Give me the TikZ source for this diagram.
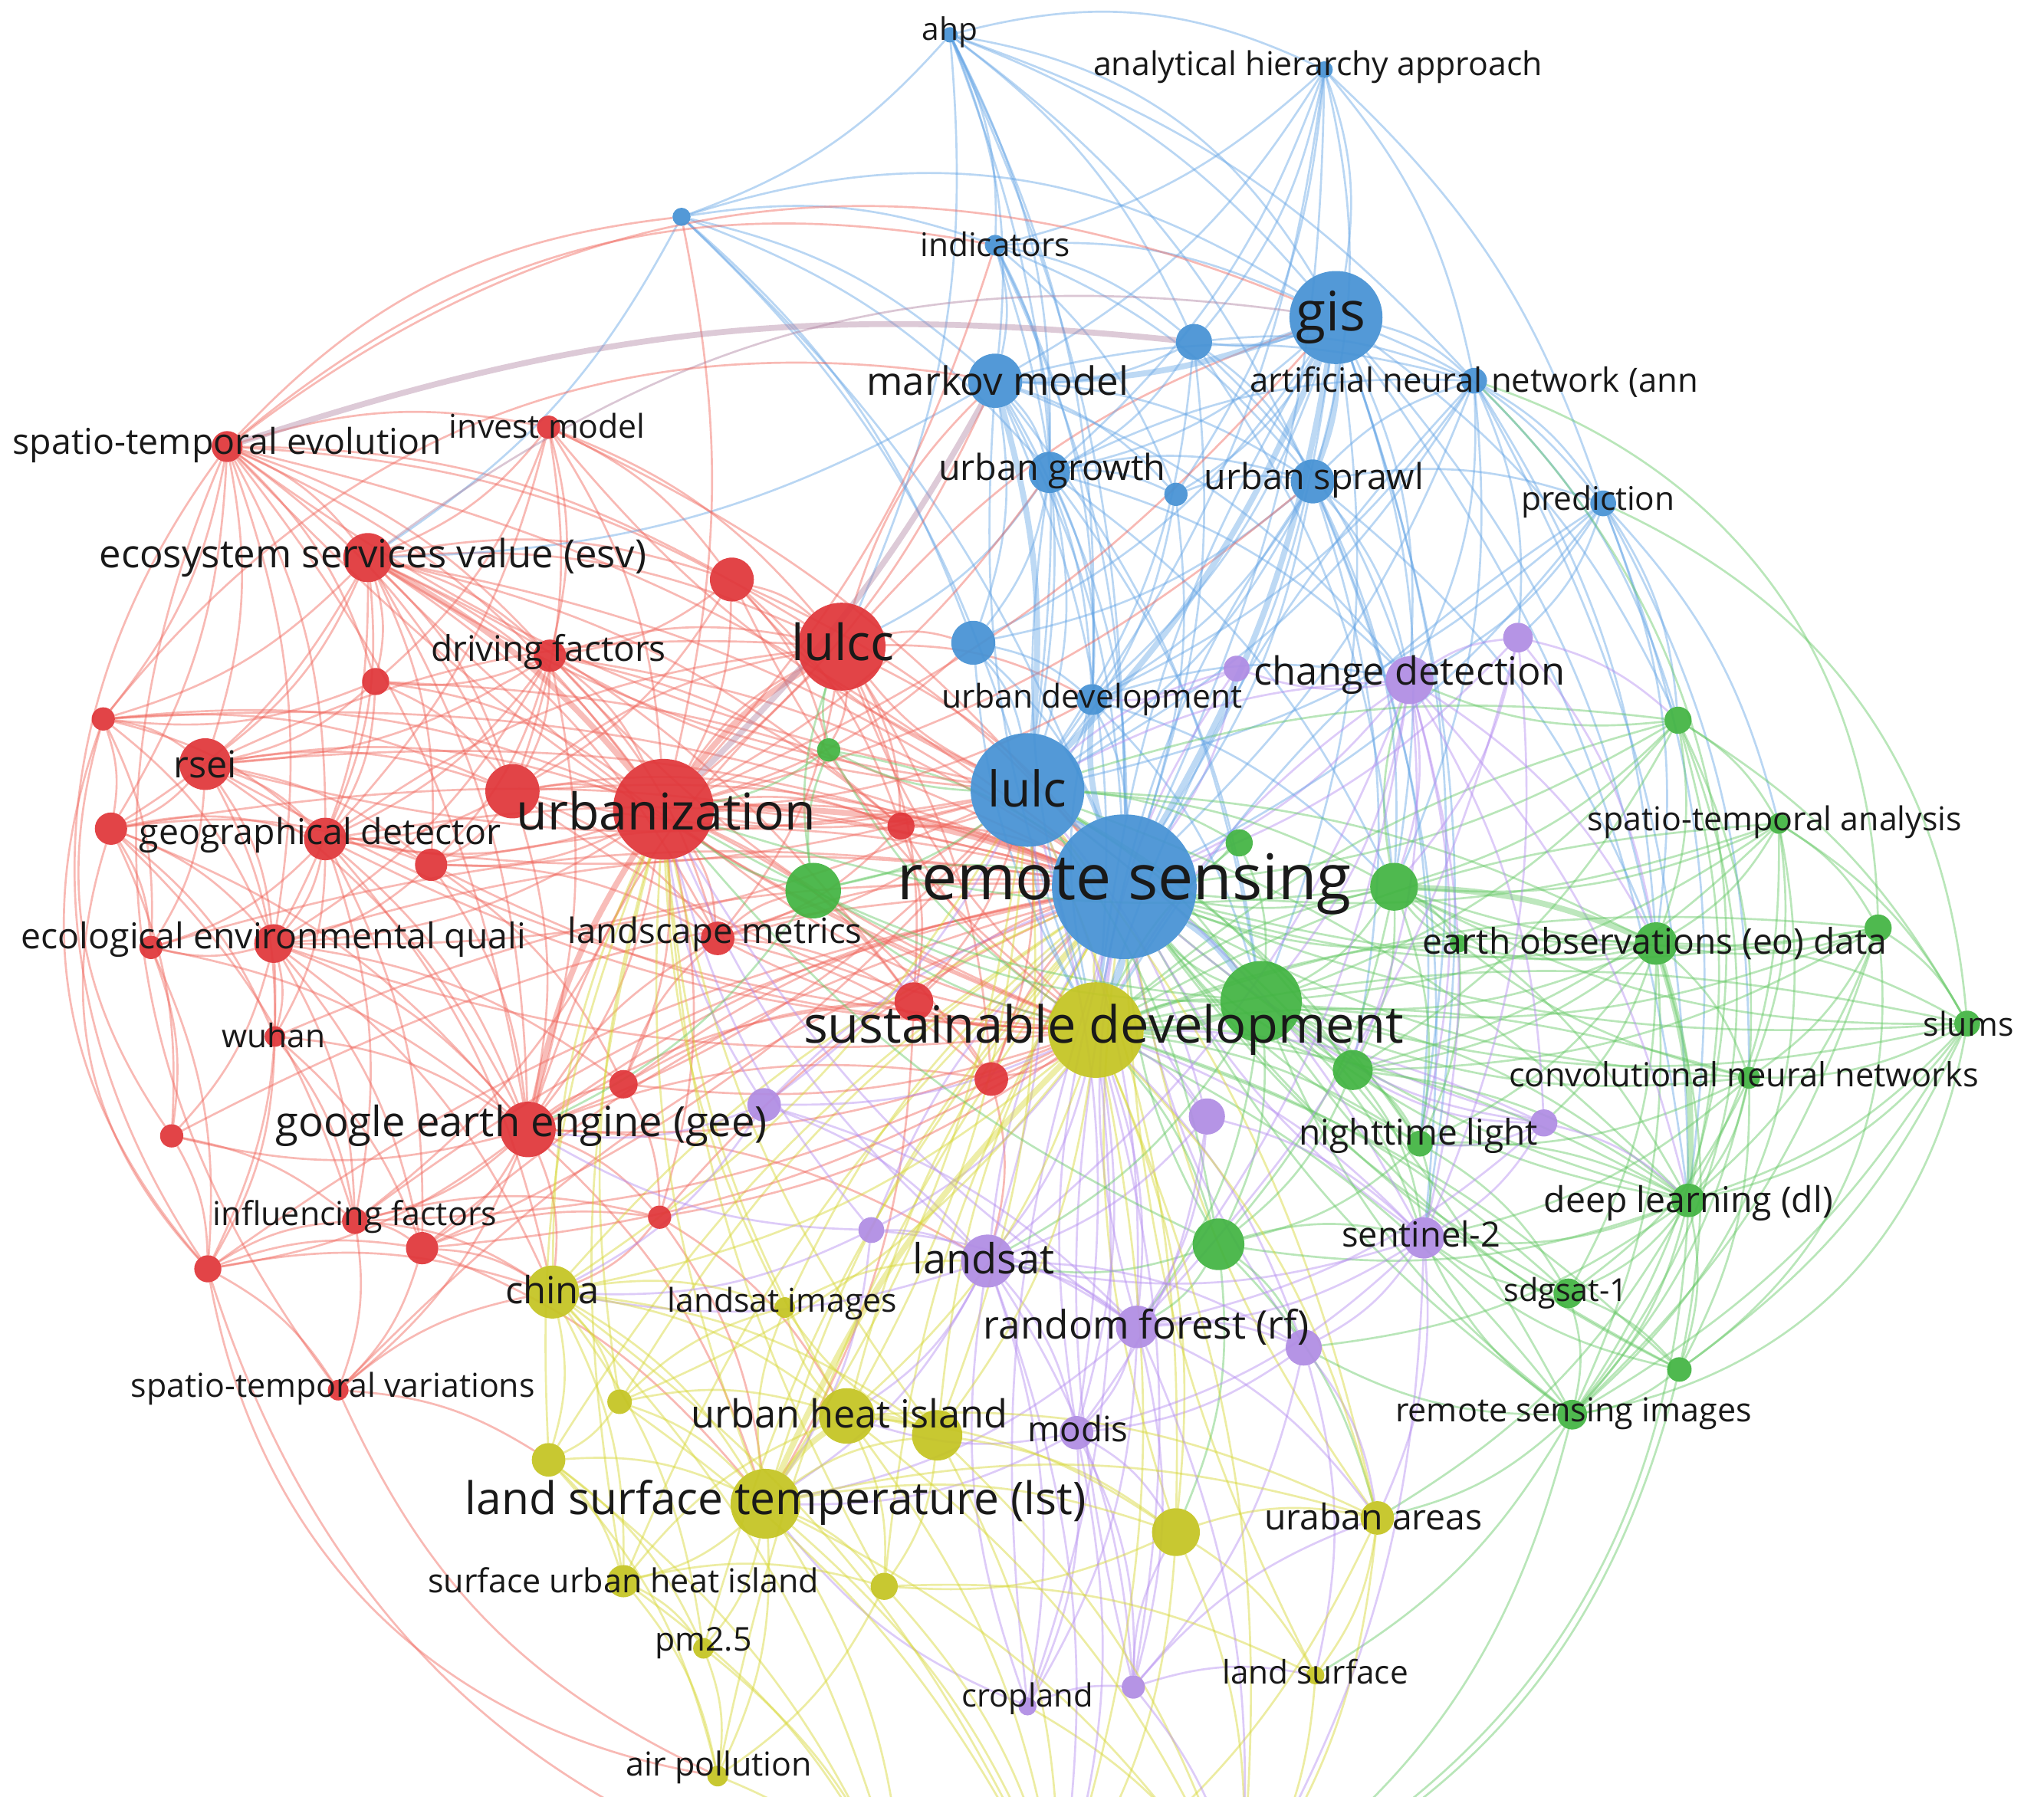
\documentclass[tikz,border=0pt]{standalone}
\usepackage{fontspec}
\setmainfont{Open Sans}
\usepackage{graphicx}
\definecolor{cNR}{RGB}{224,54,58}
\definecolor{cNB}{RGB}{70,146,212}
\definecolor{cNG}{RGB}{66,180,66}
\definecolor{cNY}{RGB}{196,196,34}
\definecolor{cNP}{RGB}{176,140,228}
\definecolor{cER}{RGB}{240,100,90}
\definecolor{cEB}{RGB}{100,165,230}
\definecolor{cEG}{RGB}{100,200,100}
\definecolor{cEY}{RGB}{215,215,50}
\definecolor{cEP}{RGB}{180,140,240}
\definecolor{cEM}{RGB}{175,130,160}
\definecolor{cTX}{RGB}{25,25,25}
\pgfdeclarelayer{bgl}
\pgfdeclarelayer{edges}
\pgfsetlayers{bgl,edges,main}
\newlength\pxu
\setlength\pxu{0.01cm}
\newcommand\lbl[2]{\resizebox{#1\pxu}{!}{#2}}
\newcommand\kwn[5]{\node[#1,minimum size={#5*0.02cm}] (#2) at (#3,#4) {};}
\newcommand\kwl[5]{\node[kwlab] (#1-l) at (#2,#3) {\lbl{#4}{#5}};}
\tikzset{
 kwc/.style={circle,inner sep=0pt,outer sep=0pt,draw=none,fill opacity=0.93},
 kR/.style={kwc,fill=cNR},
 kB/.style={kwc,fill=cNB},
 kG/.style={kwc,fill=cNG},
 kY/.style={kwc,fill=cNY},
 kP/.style={kwc,fill=cNP},
 kwlab/.style={inner sep=0pt,outer sep=0pt,text=cTX},
 ed/.style={line width=0.45pt,draw opacity=0.45},
 eR/.style={ed,draw=cER},
 eB/.style={ed,draw=cEB},
 eG/.style={ed,draw=cEG},
 eY/.style={ed,draw=cEY},
 eP/.style={ed,draw=cEP},
 eM/.style={ed,draw=cEM},
 hv/.style={line width=1.3pt,draw opacity=0.42},
}
\begin{document}
\begin{tikzpicture}[x=0.01cm,y=-0.01cm]
\useasboundingbox (0,0) rectangle (1568,1410);
\begin{pgfonlayer}{bgl}
\fill[white] (0,0) rectangle (1568,1410);
\end{pgfonlayer}
% ---------- blue cluster
\kwn{kB}{ahp}{736}{27}{6}
\kwn{kB}{ahap}{1026}{54}{6.5}
\kwn{kB}{bsm1}{528}{168}{7}
\kwn{kB}{ind}{771}{190}{8}
\kwn{kB}{gis}{1035}{246}{36}
\kwn{kB}{bsm2}{925}{265}{14}
\kwn{kB}{mark}{771}{295}{21}
\kwn{kB}{ugr}{813}{366}{16}
\kwn{kB}{bsm3}{911}{383}{9}
\kwn{kB}{usp}{1017}{373}{17}
\kwn{kB}{ann}{1142}{295}{10}
\kwn{kB}{pred}{1242}{390}{10}
\kwn{kB}{bud}{754}{498}{17}
\kwn{kB}{udev}{846}{542}{12}
\kwn{kB}{lulc}{796}{612}{44}
\kwn{kB}{rs}{871}{687}{56}
% ---------- red cluster
\kwn{kR}{ste}{176}{346}{12}
\kwn{kR}{inv}{425}{331}{9}
\kwn{kR}{esv}{285}{432}{19}
\kwn{kR}{r1}{567}{449}{17}
\kwn{kR}{drv}{426}{508}{12.5}
\kwn{kR}{r2}{291}{528}{10.5}
\kwn{kR}{r3}{80}{557}{9}
\kwn{kR}{rsei}{159}{592}{20}
\kwn{kR}{r4}{397}{613}{21}
\kwn{kR}{urb}{514}{627}{39}
\kwn{kR}{r5}{86}{642}{12.5}
\kwn{kR}{geo}{252}{650}{16.5}
\kwn{kR}{r6}{334}{670}{12.5}
\kwn{kR}{eeq}{212}{731}{15}
\kwn{kR}{r7}{117}{734}{9}
\kwn{kR}{wuh}{213}{803}{8}
\kwn{kR}{r8}{483}{840}{11}
\kwn{kR}{gee}{409}{875}{21.5}
\kwn{kR}{r9}{133}{880}{9}
\kwn{kR}{lulcc}{652}{501}{34}
\kwn{kR}{r10}{698}{640}{10.5}
\kwn{kR}{lsm}{556}{727}{13}
\kwn{kR}{r11}{708}{776}{15}
\kwn{kR}{r12}{768}{836}{13}
\kwn{kR}{inf}{275}{946}{10}
\kwn{kR}{r13}{327}{967}{12.5}
\kwn{kR}{r14}{161}{983}{10.5}
\kwn{kR}{r15}{511}{943}{9}
\kwn{kR}{stv}{262}{1077}{8}
% ---------- green cluster
\kwn{kG}{g1}{642}{581}{9}
\kwn{kG}{g2}{960}{653}{10.5}
\kwn{kG}{g3}{630}{690}{21.5}
\kwn{kG}{g4}{977}{776}{31.5}
\kwn{kG}{g5}{1080}{687}{18.5}
\kwn{kG}{g6}{1300}{558}{10.5}
\kwn{kG}{sta}{1378}{638}{8}
\kwn{kG}{g7}{1455}{719}{10.5}
\kwn{kG}{eo}{1283}{731}{16.5}
\kwn{kG}{g8}{1130}{731}{7}
\kwn{kG}{slums}{1524}{793}{10}
\kwn{kG}{cnn}{1355}{835}{8.5}
\kwn{kG}{g9}{1048}{829}{15.5}
\kwn{kG}{nl}{1100}{886}{10}
\kwn{kG}{dl}{1308}{930}{13}
\kwn{kG}{g10}{944}{964}{20}
\kwn{kG}{sdg}{1215}{1002}{11.5}
\kwn{kG}{g11}{1301}{1061}{9.5}
\kwn{kG}{rsi}{1218}{1096}{11.5}
% ---------- purple cluster
\kwn{kP}{p1}{958}{518}{10}
\kwn{kP}{cd}{1092}{527}{18.5}
\kwn{kP}{p2}{1176}{494}{11.5}
\kwn{kP}{p3}{592}{856}{13}
\kwn{kP}{p4}{935}{865}{14}
\kwn{kP}{p5}{1196}{870}{10.5}
\kwn{kP}{s2}{1103}{959}{16}
\kwn{kP}{p6}{675}{953}{10}
\kwn{kP}{lsat}{765}{977}{20.5}
\kwn{kP}{rf}{881}{1028}{16.5}
\kwn{kP}{p7}{1010}{1044}{14}
\kwn{kP}{modis}{834}{1110}{13}
\kwn{kP}{crop}{796}{1322}{7}
\kwn{kP}{p8}{878}{1307}{9}
% ---------- yellow cluster
\kwn{kY}{sd}{849}{798}{37}
\kwn{kY}{china}{428}{1001}{20.5}
\kwn{kY}{y1}{480}{1086}{9.5}
\kwn{kY}{y2}{425}{1131}{13}
\kwn{kY}{lst}{593}{1165}{27}
\kwn{kY}{suhi}{483}{1225}{12.5}
\kwn{kY}{pm}{545}{1277}{8}
\kwn{kY}{air}{556}{1376}{8}
\kwn{kY}{lsi}{608}{1013}{8}
\kwn{kY}{uhi}{656}{1097}{21.5}
\kwn{kY}{y3}{726}{1112}{19.5}
\kwn{kY}{y4}{911}{1187}{18.5}
\kwn{kY}{ua}{1067}{1176}{13}
\kwn{kY}{y5}{685}{1229}{10.5}
\kwn{kY}{ls}{1019}{1298}{7}
% off-canvas ends
\coordinate (ob1) at (820,1480);
\coordinate (ob2) at (960,1480);
\coordinate (ob3) at (700,1480);
% ---------- labels
\kwl{ahp}{736}{25}{43}{ahp}
\kwl{ahap}{1021}{52}{348}{analytical hierarchy approach}
\kwl{ind}{771}{189}{116}{indicators}
\kwl{gis}{1031}{246}{54}{gis}
\kwl{mark}{773}{295}{203}{markov model}
\kwl{ann}{1142}{296}{347}{artificial neural network (ann}
\kwl{ugr}{815}{365}{176}{urban growth}
\kwl{usp}{1018}{372}{170}{urban sprawl}
\kwl{pred}{1238}{389}{119}{prediction}
\kwl{ste}{176}{345}{332}{spatio-temporal evolution}
\kwl{inv}{424}{330}{152}{invest model}
\kwl{esv}{289}{432}{424}{ecosystem services value (esv)}
\kwl{drv}{425}{505}{182}{driving factors}
\kwl{lulcc}{653}{497}{80}{lulcc}
\kwl{udev}{846}{542}{233}{urban development}
\kwl{cd}{1092}{523}{241}{change detection}
\kwl{rsei}{159}{592}{49}{rsei}
\kwl{urb}{516}{628}{232}{urbanization}
\kwl{lulc}{796}{611}{61}{lulc}
\kwl{geo}{248}{647}{280}{geographical detector}
\kwl{sta}{1375}{637}{290}{spatio-temporal analysis}
\kwl{rs}{871}{685}{352}{remote sensing}
\kwl{lsm}{554}{724}{228}{landscape metrics}
\kwl{eeq}{212}{728}{391}{ecological environmental quali}
\kwl{eo}{1282}{731}{360}{earth observations (eo) data}
\kwl{sd}{855}{798}{465}{sustainable development}
\kwl{slums}{1525}{793}{70}{slums}
\kwl{wuh}{212}{802}{80}{wuhan}
\kwl{cnn}{1351}{832}{364}{convolutional neural networks}
\kwl{gee}{404}{872}{381}{google earth engine (gee)}
\kwl{nl}{1099}{880}{185}{nighttime light}
\kwl{dl}{1308}{932}{224}{deep learning (dl)}
\kwl{inf}{275}{943}{220}{influencing factors}
\kwl{lsat}{762}{975}{110}{landsat}
\kwl{s2}{1101}{956}{123}{sentinel-2}
\kwl{china}{428}{999}{73}{china}
\kwl{lsi}{606}{1010}{178}{landsat images}
\kwl{sdg}{1213}{1002}{96}{sdgsat-1}
\kwl{rf}{888}{1028}{252}{random forest (rf)}
\kwl{stv}{258}{1076}{313}{spatio-temporal variations}
\kwl{uhi}{658}{1095}{245}{urban heat island}
\kwl{modis}{835}{1107}{78}{modis}
\kwl{rsi}{1219}{1095}{276}{remote sensing images}
\kwl{lst}{601}{1164}{481}{land surface temperature (lst)}
\kwl{ua}{1064}{1175}{169}{uraban areas}
\kwl{suhi}{483}{1224}{303}{surface urban heat island}
\kwl{pm}{545}{1273}{75}{pm2.5}
\kwl{crop}{796}{1316}{102}{cropland}
\kwl{ls}{1019}{1295}{144}{land surface}
\kwl{air}{557}{1369}{144}{air pollution}
% ---------- edges
\begin{pgfonlayer}{edges}
\clip (0,0) rectangle (1568,1392);
% red
\foreach \a/\b in {ste/inv,ste/esv,ste/drv,ste/r2,ste/r3,ste/rsei,ste/r5,ste/geo,ste/urb,ste/lulcc,ste/eeq,ste/r4,ste/r1,ste/gee,
 inv/esv,inv/drv,inv/urb,inv/lulcc,inv/r1,inv/r4,inv/geo,inv/r2,
 esv/drv,esv/r2,esv/r3,esv/rsei,esv/r4,esv/urb,esv/lulcc,esv/r1,esv/geo,esv/r6,esv/eeq,esv/gee,esv/r5,esv/lsm,esv/r10,esv/r11,
 r1/lulcc,r1/urb,r1/drv,r1/r4,r1/r10,r1/g1,
 drv/r2,drv/rsei,drv/urb,drv/lulcc,drv/geo,drv/r4,drv/r6,drv/eeq,drv/gee,drv/r10,drv/lsm,
 r2/rsei,r2/geo,r2/r3,r2/urb,r2/r4,
 r3/rsei,r3/r5,r3/geo,r3/eeq,r3/r7,r3/urb,r3/r4,
 rsei/r5,rsei/geo,rsei/eeq,rsei/r4,rsei/urb,rsei/r6,rsei/r7,rsei/gee,rsei/lulcc,rsei/wuh,
 r4/urb,r4/lulcc,r4/geo,r4/gee,r4/r6,r4/lsm,r4/r10,
 urb/lulcc,urb/geo,urb/r6,urb/eeq,urb/gee,urb/lsm,urb/r11,urb/r10,urb/r8,urb/r12,urb/inf,urb/r15,
 r5/geo,r5/eeq,r5/r7,r5/wuh,r5/r9,r5/gee,r5/inf,r5/r6,
 geo/r6,geo/eeq,geo/wuh,geo/gee,geo/inf,geo/r13,geo/r7,geo/lulcc,
 r6/eeq,r6/gee,r6/lsm,r6/r8,
 eeq/wuh,eeq/gee,eeq/r7,eeq/r9,eeq/inf,eeq/r13,eeq/r14,eeq/r8,
 wuh/gee,wuh/inf,wuh/r14,wuh/r13,r7/r9,r7/r14,r7/gee,
 gee/r8,gee/r9,gee/inf,gee/r13,gee/r14,gee/r15,gee/lulcc,gee/r11,gee/stv,gee/r12,gee/lsm,
 r8/lsm,r8/r15,r8/r11,lulcc/r10,lulcc/r11,lulcc/lsm,lulcc/r12,lulcc/g1,
 r10/lsm,r10/r11,lsm/r11,lsm/r12,r11/r12,r9/r14,r9/inf,
 r14/inf,r14/r13,r14/stv,inf/r13,inf/stv,inf/r15,r13/stv,r13/r15,
 lulcc/mark,lulcc/gis,lulcc/udev,lulcc/bud,
 gee/china,gee/lst,gee/lsat,
 r14/china,inf/china,r13/china,stv/china,stv/y2,r13/lst,r15/lst,r15/china,r15/uhi,eeq/china,geo/china,
 r11/lst,r12/lsat,lsm/g3}
 \draw[eR] (\a) to[bend left=14] (\b);
% blue
\foreach \a/\b in {ahp/ind,ahp/gis,ahp/mark,ahp/ugr,ahp/usp,ahp/bsm1,ahp/lulc,ahp/udev,ahp/bsm2,ahp/ann,
 ahap/gis,ahap/ann,ahap/bsm2,ahap/usp,ahap/mark,ahap/pred,ahap/lulc,ahap/ind,ahap/ugr,ahap/bsm3,
 bsm1/ind,bsm1/mark,bsm1/lulc,bsm1/ugr,bsm1/bud,
 ind/mark,ind/gis,ind/ugr,ind/lulc,ind/udev,ind/usp,ind/bsm2,ind/bsm3,
 gis/bsm2,gis/ann,gis/ugr,gis/pred,gis/bsm3,gis/udev,gis/bud,gis/cd,
 bsm2/mark,bsm2/usp,bsm2/ugr,bsm2/lulc,bsm2/ann,
 mark/ugr,mark/usp,mark/bsm3,mark/ann,mark/bud,mark/udev,
 ugr/usp,ugr/bsm3,ugr/lulc,ugr/bud,ugr/udev,ugr/ann,
 bsm3/usp,bsm3/lulc,usp/ann,usp/pred,usp/lulc,usp/udev,usp/bud,
 ann/pred,ann/lulc,ann/udev,pred/lulc,
 bud/lulc,bud/udev,udev/lulc,
 gis/g4,ann/cd,ann/g6,pred/cd,pred/g6,pred/eo,pred/sta,
 mark/esv,bsm1/esv,ugr/lulcc,usp/cd,usp/g5,ahp/lulcc,
 gis/g5,gis/eo,gis/dl,gis/s2,gis/nl,gis/g6,usp/eo,usp/g9,usp/s2,usp/nl,ann/eo,ann/g5,ann/dl,ann/p2,
 pred/dl,pred/cnn,pred/p2,ugr/g5,ugr/cd,ugr/g4,mark/g4,mark/cd,mark/sd,bsm2/cd,bsm2/g5,udev/cd,udev/g5,udev/g4}
 \draw[eB] (\a) to[bend left=14] (\b);
% hub: remote sensing
\foreach \b in {ste,inv,esv,r1,drv,r2,r3,rsei,r4,urb,r5,geo,r6,eeq,r7,wuh,r8,gee,r9,lulcc,r10,lsm,r11,r12,inf,r13,r14,r15,stv}
 \draw[eR] (rs) to[bend right=12] (\b);
\foreach \b in {g1,g2,g3,g4,g5,g6,sta,g7,eo,g8,slums,cnn,g9,nl,dl,g10,sdg,g11,rsi}
 \draw[eG] (rs) to[bend right=12] (\b);
\foreach \b in {p1,cd,p2,p3,p4,p5,s2,p6,lsat,rf,p7,modis,crop,p8}
 \draw[eP] (rs) to[bend right=12] (\b);
\foreach \b in {sd,china,y1,y2,lst,suhi,pm,air,lsi,uhi,y3,y4,ua,y5,ls}
 \draw[eY] (rs) to[bend right=12] (\b);
\foreach \b in {ahp,ahap,bsm1,ind,gis,bsm2,mark,ugr,bsm3,usp,ann,pred,bud,udev,lulc}
 \draw[eB] (rs) to[bend right=12] (\b);
% hub: sustainable development
\foreach \b in {ste,esv,r1,drv,rsei,r4,urb,geo,r6,eeq,r8,gee,lulcc,r10,lsm,r11,r12,inf,r13,r15}
 \draw[eR] (sd) to[bend left=12] (\b);
\foreach \b in {g1,g2,g3,g4,g5,g6,sta,g7,eo,slums,cnn,g9,nl,dl,g10,sdg,g11,rsi}
 \draw[eG] (sd) to[bend left=12] (\b);
\foreach \b in {p1,cd,p3,p4,p5,s2,p6,lsat,rf,p7,modis,crop,p8}
 \draw[eP] (sd) to[bend left=12] (\b);
\foreach \b in {gis,mark,ugr,usp,ann,pred,bud,udev,lulc}
 \draw[eB] (sd) to[bend left=12] (\b);
% hub: lulc
\foreach \b in {ste,inv,esv,r1,drv,rsei,r4,urb,geo,eeq,gee,r10,lsm,r11,r12,r13,lulcc}
 \draw[eR] (lulc) to[bend left=12] (\b);
\foreach \b in {g1,g2,g3,g4,g5,g6,eo,g9,nl,dl,g10,rsi}
 \draw[eG] (lulc) to[bend left=12] (\b);
\foreach \b in {p1,cd,p3,p4,s2,lsat,rf,modis}
 \draw[eP] (lulc) to[bend left=12] (\b);
\foreach \b in {china,lst,uhi,y3,y4,ua}
 \draw[eY] (lulc) to[bend left=12] (\b);
% hub: urbanization
\foreach \b in {china,y1,y2,lst,suhi,uhi,y3,lsi,y5}
 \draw[eY] (urb) to[bend right=12] (\b);
\foreach \b in {g1,g3,g4,g5,g10}
 \draw[eG] (urb) to[bend right=12] (\b);
\foreach \b in {p3,p6,lsat,rf}
 \draw[eP] (urb) to[bend right=12] (\b);
\foreach \b in {mark,ugr,usp,gis,bud,udev,ind,bsm1}
 \draw[eR] (urb) to[bend right=12] (\b);
% green
\foreach \a/\b in {g6/cd,g6/eo,g6/sta,g6/g5,g6/g4,g6/dl,g6/slums,
 sta/eo,sta/g7,sta/slums,sta/cnn,sta/dl,sta/g5,
 g7/eo,g7/slums,g7/cnn,g7/dl,g7/g5,g7/rsi,
 eo/g5,eo/cnn,eo/slums,eo/g4,eo/nl,eo/sdg,eo/rsi,eo/g11,eo/g9,eo/g8,
 slums/cnn,slums/dl,slums/g11,slums/rsi,
 cnn/dl,cnn/g11,cnn/g5,cnn/g4,cnn/rsi,cnn/sdg,
 g5/g4,g5/g9,g5/dl,g5/nl,g5/cd,g5/g10,g5/g8,
 g4/g9,g4/g10,g4/nl,g4/dl,g4/g3,g4/lsat,g4/s2,g4/rf,
 g9/nl,g9/dl,g9/g10,g9/s2,nl/dl,nl/s2,nl/sdg,nl/g10,
 dl/sdg,dl/g11,dl/rsi,dl/s2,dl/g10,dl/ua,sdg/g11,sdg/rsi,sdg/s2,g11/rsi,rsi/ua,rsi/ls,rsi/s2,
 g10/lsat,g10/rf,g10/s2,g10/ua,g10/y4,g10/p7,
 g3/lulcc,g3/g1,g3/gee,g1/lulcc,g2/g4,g8/g5,g8/nl,
 g6/cnn,g6/g9,sta/g4,sta/g9,g7/g4,g7/g9,eo/p5,cnn/nl,cnn/s2,dl/g4,dl/p7,g11/g4,g11/s2,rsi/g4,rsi/p7,slums/g4,slums/g5}
 \draw[eG] (\a) to[bend left=14] (\b);
% purple
\foreach \a/\b in {cd/p1,cd/p2,cd/s2,cd/rf,cd/nl,cd/p5,cd/dl,cd/g9,
 p1/udev,p2/s2,p2/g6,p2/rf,
 p3/gee,p3/lsat,p3/rf,p3/china,
 p4/lsat,p4/rf,p4/s2,p4/modis,p5/s2,p5/rf,p5/nl,p5/dl,
 s2/rf,s2/lsat,s2/p7,s2/modis,s2/ua,p6/lsat,p6/rf,p6/china,p6/lst,p6/gee,
 lsat/rf,lsat/modis,lsat/lst,lsat/uhi,lsat/p7,lsat/china,lsat/p8,lsat/crop,
 rf/p7,rf/modis,rf/crop,rf/p8,rf/ua,rf/lst,p7/modis,p7/ua,p7/p8,p7/ls,
 modis/lst,modis/uhi,modis/p8,modis/crop,modis/y4,
 crop/p8,crop/lst,crop/lsat,p8/ua,p8/ls,p8/y4,
 cd/g5,cd/eo,cd/g4,cd/lsat,p2/eo,p2/g5,p5/g4,p5/g9}
 \draw[eP] (\a) to[bend left=14] (\b);
% yellow
\foreach \a/\b in {sd/uhi,sd/china,sd/y3,sd/y4,sd/ua,sd/y1,
 china/lst,china/uhi,china/y1,china/y2,china/suhi,china/lsi,china/pm,china/y3,
 y1/lst,y1/y2,y1/uhi,y1/lsi,y2/lst,y2/suhi,y2/pm,y2/air,
 lst/y3,lst/suhi,lst/pm,lst/air,lst/y5,lst/y4,lst/lsi,lst/ua,
 suhi/uhi,suhi/pm,suhi/y5,suhi/air,uhi/y5,uhi/lsi,uhi/y4,uhi/ua,
 y3/y4,y3/y5,y3/lsi,y4/ua,y4/ls,y4/y5,ua/ls,pm/air,y5/ls,y5/air,lsi/lsat,
 lst/ob1,uhi/ob1,y4/ob2,ua/ob2,y3/ob2,y5/ob1,air/ob3,crop/ob2,ls/ob2,sd/ob2,china/ob3,pm/ob3,
 lst/ob2,uhi/ob2,y3/ob1,china/ob1,y1/ob1,suhi/ob3,sd/ob1,y4/ob1,ua/ob1,lst/ob3,y2/ob3}
 \draw[eY] (\a) to[bend left=14] (\b);
\foreach \a/\b in {lsat/ob1,rf/ob2,modis/ob1,p8/ob2,s2/ob2}
 \draw[eP] (\a) to[bend left=14] (\b);
% heavier links
\foreach \a/\b in {urb/lulcc,urb/rs,esv/urb,gee/urb}
 \draw[eR,hv] (\a) to[bend left=10] (\b);
\foreach \a/\b in {lulc/rs,gis/mark,gis/rs,gis/usp,gis/lulc,mark/lulc,rs/sd,rs/g4,rs/udev}
 \draw[eB,hv] (\a) to[bend left=10] (\b);
\foreach \a/\b in {g4/sd,eo/dl,g5/eo}
 \draw[eG,hv] (\a) to[bend left=10] (\b);
\foreach \a/\b in {lst/uhi,uhi/y3,lst/sd}
 \draw[eY,hv] (\a) to[bend left=10] (\b);
\draw[eM,hv] (ste) to[bend left=12] (bsm2);
\draw[eM,hv] (mark) to[bend left=8] (urb);
% long outer arcs
\draw[eR] (ste) to[bend left=30] (gis);
\draw[eR] (ste) to[bend left=20] (bsm1);
\draw[eM] (esv) to[bend left=22] (gis);
\draw[eR] (ste) to[bend left=25] (ind);
\draw[eR] (r3) to[bend left=30] (mark);
\draw[eR] (r3) to[bend right=30] (r14);
\draw[eR] (ste) to[bend right=35] (r14);
\draw[eR] (ste) to[bend right=30] (stv);
\draw[eR] (r14) to[bend right=35] (air);
\draw[eR] (r5) to[bend right=30] (r14);
\draw[eR] (stv) to[bend right=20] (air);
\draw[eR] (r3) to[bend right=25] (r9);
\draw[eR] (r14) to[bend right=30] (ob3);
\draw[eB] (bsm1) to[bend left=25] (gis);
\draw[eB] (ahp) to[bend left=25] (gis);
\draw[eB] (ahp) to[bend left=20] (ahap);
\draw[eG] (pred) to[bend left=30] (slums);
\draw[eG] (ann) to[bend left=35] (g7);
\draw[eG] (ann) to[bend left=40] (rsi);
\draw[eG] (g6) to[bend left=30] (rsi);
\draw[eG] (sta) to[bend left=30] (rsi);
\draw[eG] (g7) to[bend left=30] (g11);
\draw[eG] (slums) to[bend left=20] (dl);
\draw[eG] (slums) to[bend left=35] (rsi);
\draw[eG] (rsi) to[bend left=20] (ob2);
\draw[eG] (g11) to[bend left=25] (ob2);
\draw[eG] (dl) to[bend left=30] (ob2);
\end{pgfonlayer}
\end{tikzpicture}
\end{document}
